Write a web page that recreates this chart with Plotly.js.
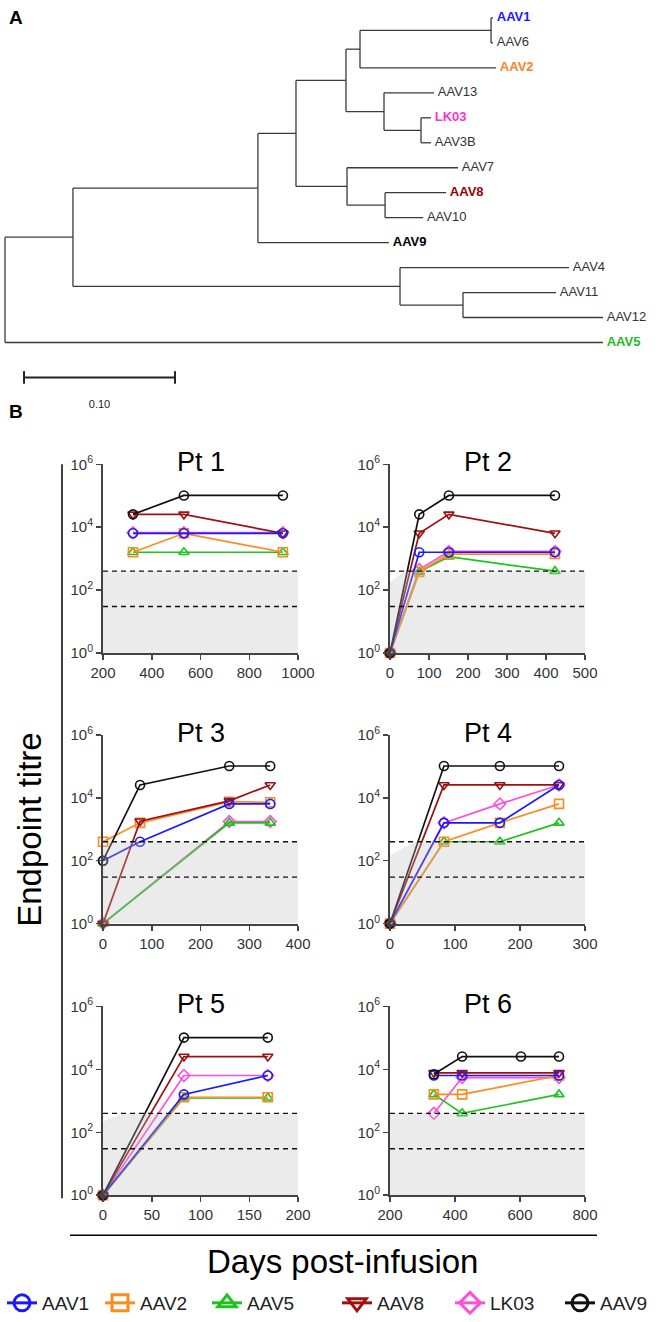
<!DOCTYPE html>
<html><head><meta charset="utf-8">
<script src="https://cdn.plot.ly/plotly-3.0.1.min.js"></script>
<style>html,body{margin:0;padding:0;background:#fff}#chart{width:660px;height:1322px}</style>
</head><body><div id="chart"></div>
<script>
// ---------------- Data ----------------
const serotypes = ['AAV1', 'AAV2', 'AAV5', 'AAV8', 'LK03', 'AAV9'];
const patients = ['Pt 1', 'Pt 2', 'Pt 3', 'Pt 4', 'Pt 5', 'Pt 6'];
const yTickVals = [1, 100, 10000, 1000000];
const yTickText = ['10<sup>0</sup>', '10<sup>2</sup>', '10<sup>4</sup>', '10<sup>6</sup>'];
const xRanges = [[200, 1000], [0, 500], [0, 400], [0, 300], [0, 200], [200, 800]];
const xTickSteps = [200, 100, 100, 100, 50, 200];
const thresholdUpper = 400;
const thresholdLower = 30;
// shaded region: [days over which the top edge rises, titre at the left edge] (null = flat)
const shadeRise = [null, [38, 180], null, [38, 145], [20, 220], null];

// days post-infusion per patient
const pt1Days = [323, 532, 938];
const pt2Days = [0, 75, 151, 423];
const pt3Days = [0, 76, 259, 343];
const pt4Days = [0, 83, 169, 260];
const pt5Days = [0, 83, 169];
const pt6Days = [335, 422, 603, 720];
const daysByPatient = [pt1Days, pt2Days, pt3Days, pt4Days, pt5Days, pt6Days];

// endpoint titres per serotype, one array per patient
const aav1Titres = [[6400, 6400, 6400], [1, 1600, 1600, 1600], [100, 400, 6400, 6400], [1, 1600, 1600, 25600], [1, 1600, 6400], [6400, 6400, null, 6400]];
const aav2Titres = [[1600, 6400, 1600], [1, 380, 1400, 1400], [400, 1600, 7500, 7200], [1, 400, 1600, 6400], [1, 1300, 1300], [1600, 1600, null, 6400]];
const aav5Titres = [[1600, 1600, 1600], [1, 380, 1150, 400], [1, null, 1600, 1600], [1, 400, 400, 1600], [1, 1250, 1250], [1600, 400, null, 1600]];
const aav8Titres = [[25600, 25600, 6400], [1, 6400, 25600, 6400], [1, 1800, 8000, 25600], [1, 25600, 25600, 25600], [1, 25600, 25600], [7800, 7800, null, 7800]];
const lk03Titres = [[6700, 6700, 6700], [1, 450, 1700, 1700], [1, null, 1750, 1750], [1, 1600, 6400, 25600], [1, 6400, 6400], [400, 5500, null, 5500]];
const aav9Titres = [[25600, 102400, 102400], [1, 25600, 102400, 102400], [100, 25600, 102400, 102400], [1, 102400, 102400, 102400], [1, 102400, 102400], [7000, 25600, 25600, 25600]];
const titresBySerotype = {AAV1: aav1Titres, AAV2: aav2Titres, AAV5: aav5Titres, AAV8: aav8Titres, LK03: lk03Titres, AAV9: aav9Titres};

// phylogenetic tree (branch lengths, substitutions/site)
const treeNodes = ['root', 'N1', 'AAV5', 'N2', 'N3', 'N4', 'AAV9', 'N5', 'N6', 'N7', 'N8', 'N9', 'AAV2', 'AAV1', 'AAV6', 'AAV13', 'N10', 'LK03', 'AAV3B', 'AAV7', 'N11', 'AAV8', 'AAV10', 'AAV4', 'N12', 'AAV11', 'AAV12'];
const treeParents = [null, 'root', 'root', 'N1', 'N1', 'N2', 'N2', 'N4', 'N4', 'N5', 'N5', 'N7', 'N7', 'N9', 'N9', 'N8', 'N8', 'N10', 'N10', 'N6', 'N6', 'N11', 'N11', 'N3', 'N3', 'N12', 'N12'];
const branchLengths = [0, 0.045, 0.396, 0.1225, 0.2166, 0.0252, 0.0868, 0.0331, 0.0338, 0.0093, 0.0252, 0.0868, 0.0901, 0.0013, 0.0013, 0.0331, 0.0245, 0.0066, 0.0066, 0.0735, 0.0252, 0.0404, 0.0252, 0.1119, 0.0417, 0.0616, 0.0927];
const leafOrder = ['AAV1', 'AAV6', 'AAV2', 'AAV13', 'LK03', 'AAV3B', 'AAV7', 'AAV8', 'AAV10', 'AAV9', 'AAV4', 'AAV11', 'AAV12', 'AAV5'];
const scaleBarLength = 0.10;
const scaleBarLabel = '0.10';

// ---------------- Styles ----------------
const W = 660, H = 1322;
const FONT = 'Liberation Sans, Arial, Helvetica, sans-serif';
const colors = {AAV1: '#1a1aff', AAV2: '#ff8a1e', AAV5: '#1cc41c', AAV8: '#a01010', LK03: '#ff4fd8', AAV9: '#111111'};
const symbols = {AAV1: 'circle-open', AAV2: 'square-open', AAV5: 'triangle-up-open', AAV8: 'triangle-down-open', LK03: 'diamond-open', AAV9: 'circle-open'};
const labelColors = {AAV1: '#1a1aff', AAV2: '#ff7f27', AAV5: '#22bb22', AAV8: '#990000', LK03: '#ff33cc', AAV9: '#000000'};
const drawOrder = ['LK03', 'AAV5', 'AAV2', 'AAV8', 'AAV1', 'AAV9'];
const legendLeftPx = [2, 100, 207, 337, 450, 560];

const colX = [[103, 298], [390, 585]];
const rowY = [[465, 654], [736, 925], [1008, 1197]];
const px2x = p => p / W;
const px2y = p => 1 - p / H;

const traces = [];
const layout = {
  width: W, height: H,
  margin: {l: 0, r: 0, t: 0, b: 0},
  paper_bgcolor: '#fff', plot_bgcolor: 'rgba(0,0,0,0)',
  font: {family: FONT, color: '#222'},
  showlegend: true,
  annotations: [], shapes: []
};

// ---------------- Panels ----------------
patients.forEach((pt, i) => {
  const n = i + 1;
  const col = i % 2, row = Math.floor(i / 2);
  const xa = 'x' + n, ya = 'y' + n;
  const xr = xRanges[i];
  layout['xaxis' + n] = {
    domain: [px2x(colX[col][0]), px2x(colX[col][1])], range: xr, anchor: ya,
    tick0: xr[0], dtick: xTickSteps[i], showgrid: false, zeroline: false,
    showline: true, linewidth: 2, linecolor: '#444', ticks: 'outside', ticklen: 5, tickwidth: 1.5, tickcolor: '#444',
    tickfont: {size: 15, color: '#333', family: FONT}, fixedrange: true
  };
  layout['yaxis' + n] = {
    domain: [px2y(rowY[row][1]), px2y(rowY[row][0])], type: 'log', range: [0, 6], anchor: xa,
    tickvals: yTickVals, ticktext: yTickText, showgrid: false, zeroline: false,
    showline: true, linewidth: 2, linecolor: '#444', ticks: 'outside', ticklen: 5, tickwidth: 1.5, tickcolor: '#444',
    tickfont: {size: 15, color: '#333', family: FONT}, fixedrange: true
  };
  const days = daysByPatient[i];
  drawOrder.forEach(s => {
    traces.push({
      type: 'scatter', mode: 'lines+markers', x: days, y: titresBySerotype[s][i],
      xaxis: xa, yaxis: ya, connectgaps: true, showlegend: false, cliponaxis: false,
      line: {color: colors[s], width: 1.7},
      marker: {symbol: symbols[s], size: 9, color: colors[s], line: {width: 1.6, color: colors[s]}},
      name: s, hoverinfo: 'x+y+name'
    });
  });
  // shaded region (below assay cut-off)
  let sx, sy;
  if (shadeRise[i]) {
    sx = [xr[0], xr[0] + shadeRise[i][0], xr[1], xr[1], xr[0]];
    sy = [shadeRise[i][1], thresholdUpper, thresholdUpper, 1, 1];
  } else {
    sx = [xr[0], xr[1], xr[1], xr[0]];
    sy = [thresholdUpper, thresholdUpper, 1, 1];
  }
  traces.push({type: 'scatter', mode: 'lines', x: sx, y: sy, fill: 'toself', fillcolor: 'rgba(190,190,190,0.30)',
    line: {width: 0}, xaxis: xa, yaxis: ya, showlegend: false, hoverinfo: 'skip'});
  [thresholdUpper, thresholdLower].forEach(t => {
    traces.push({type: 'scatter', mode: 'lines', x: xr, y: [t, t], line: {color: '#111', width: 1.4, dash: '5px,4px'},
      xaxis: xa, yaxis: ya, showlegend: false, hoverinfo: 'skip'});
  });
  layout.annotations.push({text: pt, xref: 'paper', yref: 'paper',
    x: (px2x(colX[col][0]) + px2x(colX[col][1])) / 2, y: px2y(rowY[row][0] - 2),
    xanchor: 'center', yanchor: 'middle', showarrow: false, font: {size: 27, color: '#000', family: FONT}});
});

// ---------------- Tree ----------------
const tx = {}, children = {};
treeNodes.forEach((nd, k) => {
  tx[nd] = treeParents[k] ? tx[treeParents[k]] + branchLengths[k] : 0;
  if (treeParents[k]) (children[treeParents[k]] = children[treeParents[k]] || []).push(nd);
});
const ty = {};
function nodeY(nd) {
  if (ty[nd] !== undefined) return ty[nd];
  if (!children[nd]) { ty[nd] = leafOrder.indexOf(nd); return ty[nd]; }
  const ys = children[nd].map(nodeY);
  ty[nd] = (Math.min(...ys) + Math.max(...ys)) / 2;
  return ty[nd];
}
nodeY('root');
const tlx = [], tly = [];
treeNodes.forEach(nd => {
  if (children[nd]) {
    const ys = children[nd].map(c => ty[c]);
    tlx.push(tx[nd], tx[nd], null); tly.push(Math.min(...ys), Math.max(...ys), null);
    children[nd].forEach(c => { tlx.push(tx[nd], tx[c], null); tly.push(ty[c], ty[c], null); });
  }
});
traces.push({type: 'scatter', mode: 'lines', x: tlx, y: tly, xaxis: 'x7', yaxis: 'y7',
  line: {color: '#3a3a3a', width: 1.3}, showlegend: false, hoverinfo: 'skip', cliponaxis: false});
const highlighted = ['AAV1', 'AAV2', 'LK03', 'AAV8', 'AAV9', 'AAV5'];
traces.push({type: 'scatter', mode: 'text', x: leafOrder.map(l => tx[l] + 0.0025), y: leafOrder.map(l => ty[l]),
  text: leafOrder.map(l => highlighted.includes(l) ? '<b>' + l + '</b>' : l), textposition: 'middle right',
  textfont: {size: 13, family: FONT, color: leafOrder.map(l => labelColors[l] || '#333')},
  xaxis: 'x7', yaxis: 'y7', showlegend: false, hoverinfo: 'skip', cliponaxis: false});
// scale bar
const scaleX0 = 0.0126, scaleRow = 14.4;
traces.push({type: 'scatter', mode: 'lines+markers', x: [scaleX0, scaleX0 + scaleBarLength], y: [scaleRow, scaleRow],
  xaxis: 'x7', yaxis: 'y7', line: {color: '#222', width: 2}, marker: {symbol: 'line-ns-open', size: 9, line: {width: 2, color: '#222'}},
  showlegend: false, hoverinfo: 'skip', cliponaxis: false});
traces.push({type: 'scatter', mode: 'text', x: [scaleX0 + scaleBarLength / 2], y: [15.5], text: [scaleBarLabel],
  textposition: 'middle center', textfont: {size: 11, family: FONT, color: '#222'},
  xaxis: 'x7', yaxis: 'y7', showlegend: false, hoverinfo: 'skip', cliponaxis: false});
layout.xaxis7 = {domain: [0, 1], range: [-5 / 1510, 655 / 1510], visible: false, fixedrange: true};
layout.yaxis7 = {domain: [px2y(420), 1], range: [(420 - 18) / 25, -18 / 25], visible: false, fixedrange: true};

// legend entries: one small legend per serotype, placed along the bottom row
serotypes.forEach((s, k) => {
  const key = k === 0 ? 'legend' : 'legend' + (k + 1);
  layout[key] = {orientation: 'h', x: px2x(legendLeftPx[k]), xanchor: 'left', y: px2y(1305), yanchor: 'middle',
    font: {size: 19, color: '#222', family: FONT}, itemwidth: 30, bgcolor: 'rgba(0,0,0,0)', borderwidth: 0};
  traces.push({type: 'scatter', mode: 'lines+markers', x: [null], y: [null], xaxis: 'x7', yaxis: 'y7',
    name: s, legend: key, line: {color: colors[s], width: 3},
    marker: {symbol: symbols[s], size: 16, color: colors[s], line: {width: 3, color: colors[s]}}});
});

// ---------------- Labels / lines ----------------
layout.annotations.push(
  {text: '<b>A</b>', xref: 'paper', yref: 'paper', x: px2x(7), y: px2y(18), xanchor: 'left', yanchor: 'middle', showarrow: false, font: {size: 19, color: '#000', family: FONT}},
  {text: '<b>B</b>', xref: 'paper', yref: 'paper', x: px2x(7), y: px2y(412), xanchor: 'left', yanchor: 'middle', showarrow: false, font: {size: 19, color: '#000', family: FONT}},
  {text: 'Endpoint titre', xref: 'paper', yref: 'paper', x: px2x(30), y: px2y(831), xanchor: 'center', yanchor: 'middle', textangle: -90, showarrow: false, font: {size: 33, color: '#000', family: FONT}},
  {text: 'Days post-infusion', xref: 'paper', yref: 'paper', x: px2x(342), y: px2y(1263), xanchor: 'center', yanchor: 'middle', showarrow: false, font: {size: 33, color: '#000', family: FONT}}
);
layout.shapes.push(
  {type: 'line', xref: 'paper', yref: 'paper', x0: px2x(62), x1: px2x(62), y0: px2y(465), y1: px2y(1200), line: {color: '#000', width: 1.5}},
  {type: 'line', xref: 'paper', yref: 'paper', x0: px2x(70), x1: px2x(597), y0: px2y(1237), y1: px2y(1237), line: {color: '#000', width: 1.5}}
);

Plotly.newPlot('chart', traces, layout, {staticPlot: true, displayModeBar: false});
</script>
</body></html>
